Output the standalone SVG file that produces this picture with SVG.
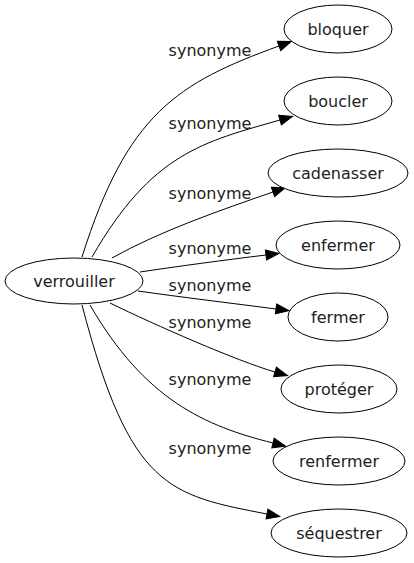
<svg xmlns="http://www.w3.org/2000/svg" width="414" height="563" viewBox="0 0 414 563">
<defs>
<marker id="arr" markerUnits="userSpaceOnUse" markerWidth="14" markerHeight="10" refX="0" refY="5" orient="auto" overflow="visible">
<path d="M0,0 L13,5 L0,10 z" fill="#000" stroke="#000" stroke-width="1"/>
</marker>
</defs>
<style>
.node ellipse{fill:#fff;stroke:#000;stroke-width:1}
.node text{font-family:"DejaVu Sans",sans-serif;font-size:16px;fill:#222;text-anchor:middle}
.edges path{fill:none;stroke:#000;stroke-width:1;marker-end:url(#arr)}
.edges text{font-family:"DejaVu Sans",sans-serif;font-size:16px;fill:#222;text-anchor:middle}
</style>
<rect width="414" height="563" fill="#fff"/>
<g id="edges" class="edges">
<path d="M82,257 C127,114 177,83 279,46"/>
<path d="M92,257 C152,153 203,142 280,120"/>
<path d="M112,258 C160,231 221,210 273,192"/>
<path d="M140,272 C180,266 225,260 266,255"/>
<path d="M138,291 C180,297 230,303 276,309"/>
<path d="M110,303 C155,325 237,361 275,372"/>
<path d="M90,305 C145,400 205,426 273,443"/>
<path d="M82,305 C130,489 169,495 267,514"/>
<text x="210" y="56">synonyme</text>
<text x="210" y="129">synonyme</text>
<text x="210" y="199">synonyme</text>
<text x="210" y="254">synonyme</text>
<text x="210" y="291">synonyme</text>
<text x="210" y="328">synonyme</text>
<text x="210" y="385">synonyme</text>
<text x="210" y="454">synonyme</text>
</g>
<g id="verrouiller" class="node"><ellipse cx="74" cy="281" rx="69" ry="23"/><text x="74" y="287">verrouiller</text></g>
<g id="bloquer" class="node"><ellipse cx="338" cy="29" rx="54" ry="24"/><text x="338" y="35">bloquer</text></g>
<g id="boucler" class="node"><ellipse cx="338" cy="101" rx="54" ry="24"/><text x="338" y="107">boucler</text></g>
<g id="cadenasser" class="node"><ellipse cx="338" cy="173" rx="70" ry="24"/><text x="338" y="179">cadenasser</text></g>
<g id="enfermer" class="node"><ellipse cx="338" cy="245" rx="62" ry="24"/><text x="338" y="251">enfermer</text></g>
<g id="fermer" class="node"><ellipse cx="338" cy="317" rx="50" ry="24"/><text x="338" y="323">fermer</text></g>
<g id="proteger" class="node"><ellipse cx="339" cy="389" rx="58" ry="24"/><text x="339" y="395">protéger</text></g>
<g id="renfermer" class="node"><ellipse cx="339" cy="461" rx="66" ry="24"/><text x="339" y="467">renfermer</text></g>
<g id="sequestrer" class="node"><ellipse cx="339" cy="533" rx="68" ry="24"/><text x="339" y="539">séquestrer</text></g>
</svg>
